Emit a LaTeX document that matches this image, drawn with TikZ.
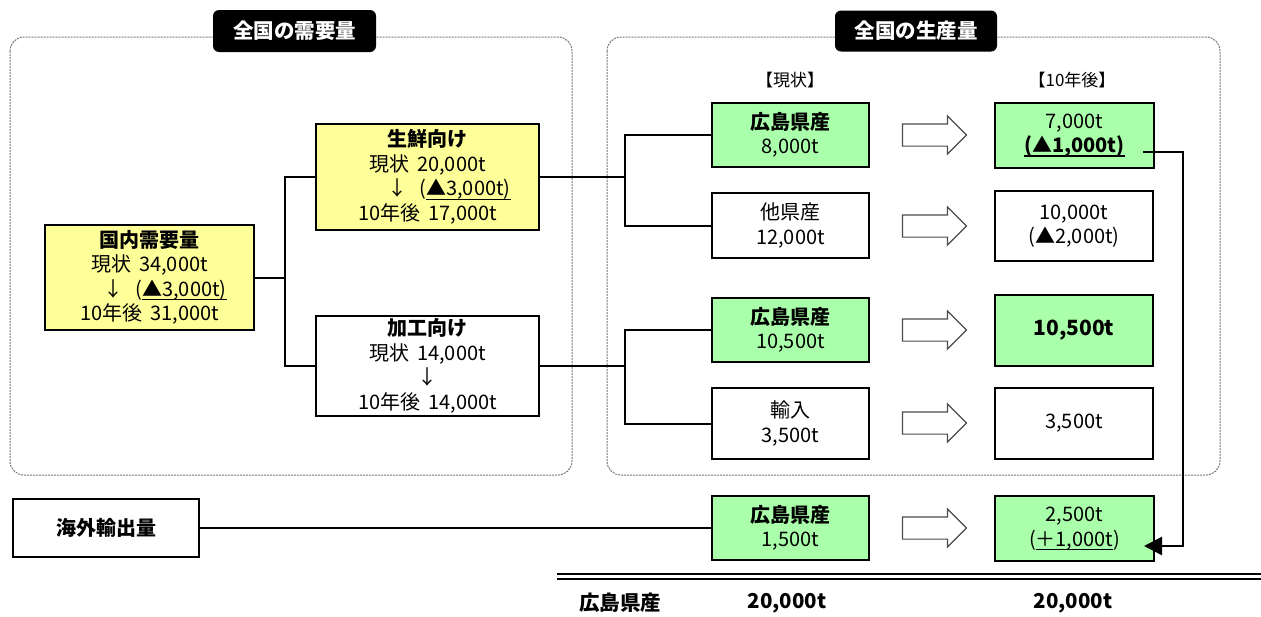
\documentclass[tikz,border=0pt]{standalone}
\usepackage{fontspec}
\setmainfont{Noto Sans CJK JP}
\usetikzlibrary{shapes.arrows,arrows.meta}
\definecolor{yel}{RGB}{255,255,153}
\definecolor{grn}{RGB}{170,255,170}
\definecolor{dashgray}{RGB}{120,120,120}
\newcommand\ulx[1]{\leavevmode\setbox0\hbox{#1}\rlap{\rule[-4pt]{\wd0}{1.3pt}}\box0}
\tikzset{
  bx/.style={draw, line width=1.5pt, align=center, inner sep=0pt},
  thk/.style={line width=2.6pt},
  yb/.style={bx, fill=yel},
  gb/.style={bx, fill=grn},
  wb/.style={bx, fill=white},
  conn/.style={draw, line width=2pt},
  harrow/.style={draw=black!70, line width=1.2pt, single arrow, single arrow head extend=8pt, minimum height=64pt, inner xsep=0pt, inner ysep=10.5pt, fill=white},
  hdr/.style={fill=black, rounded corners=6pt, text=white, font=\bfseries\fontsize{20.5}{24}\selectfont},
  grp/.style={draw=dashgray, dash pattern=on 2pt off 1pt, line width=1pt, rounded corners=14pt},
  colhead/.style={font=\fontsize{17}{20}\selectfont},
  tot/.style={font=\bfseries\fontsize{20.5}{24}\selectfont, inner sep=0pt}
}
\begin{document}
\begin{tikzpicture}[x=1pt,y=-1pt,font=\fontsize{20}{24.5}\selectfont]
\useasboundingbox (0,0) rectangle (1261,616);
% group frames
\draw[grp] (10,37) rectangle (572,475);
\draw[grp] (607,37) rectangle (1220,475);
\node[hdr, minimum width=163pt, minimum height=42pt] (t1) at (294.5,31) {全国の需要量};
\node[hdr, minimum width=162pt, minimum height=41pt] (t2) at (916,31) {全国の生産量};
\node[colhead] (c1) at (790,80) {【現状】};
\node[colhead] (c2) at (1072,80) {【10年後】};
% demand side
\node[yb, thk, minimum width=209pt, minimum height=105pt] (dom) at (149.5,277.5)
  {\textbf{国内需要量}\\現状\hspace{8pt}34,000t\\\hspace{31pt}↓\hspace{12pt}(\ulx{▲3,000t)}\\10年後\hspace{8pt}31,000t};
\node[yb, thk, minimum width=223pt, minimum height=106pt] (fresh) at (427.5,177)
  {\textbf{生鮮向け}\\現状\hspace{8pt}20,000t\\\hspace{43pt}↓\hspace{12pt}(\ulx{▲3,000t)}\\10年後\hspace{8pt}17,000t};
\node[wb, minimum width=223pt, minimum height=100pt] (proc) at (427.5,366)
  {\textbf{加工向け}\\現状\hspace{8pt}14,000t\\↓\\10年後\hspace{8pt}14,000t};
\node[wb, minimum width=186pt, minimum height=58pt] (exp) at (106,528) {\textbf{海外輸出量}};
% production: current
\node[gb, minimum width=157pt, minimum height=64pt] (h1) at (790.5,135) {\textbf{広島県産}\\8,000t};
\node[wb, minimum width=157pt, minimum height=65pt] (o1) at (790.5,225.5) {他県産\\12,000t};
\node[gb, minimum width=157pt, minimum height=64pt] (h2) at (790.5,330) {\textbf{広島県産}\\10,500t};
\node[wb, minimum width=157pt, minimum height=71pt] (imp) at (790.5,423.5) {輸入\\3,500t};
\node[gb, minimum width=157pt, minimum height=64pt] (h3) at (790.5,528) {\textbf{広島県産}\\1,500t};
% production: after 10 years
\node[gb, thk, minimum width=159pt, minimum height=65pt] (f1) at (1074.5,135.5) {7,000t\\\textbf{\ulx{(▲1,000t)}}};
\node[wb, minimum width=158pt, minimum height=70pt] (f2) at (1074,226) {10,000t\\(▲2,000t)};
\node[gb, minimum width=158pt, minimum height=71pt] (f3) at (1074,330.5) {\textbf{\fontsize{21}{24}\selectfont 10,500t}};
\node[wb, minimum width=158pt, minimum height=71pt] (f4) at (1074,423.5) {3,500t};
\node[gb, thk, minimum width=159pt, minimum height=65pt] (f5) at (1074.5,528.5) {2,500t\\(\ulx{＋1,000t})};
% hollow arrows
\foreach \y/\n in {135/1,226/2,330/3,423/4,528/5}
  \node[harrow] (ar\n) at (929,\y) {};
% connectors
\coordinate (j1) at (285,277.5);
\draw[conn] (dom.east) -- (j1);
\draw[conn] (fresh.west) -| (j1) |- (proc.west);
\coordinate (j2) at (625,177);
\draw[conn] (fresh.east) -- (j2);
\draw[conn] (h1.west) -| (j2) |- (o1.west);
\coordinate (j3) at (625,366);
\draw[conn] (proc.east) -- (j3);
\draw[conn] (h2.west) -| (j3) |- (imp.west);
\draw[conn] (exp.east) -- (h3.west);
% feedback arrow
\coordinate (fbs) at (1143,152);
\coordinate (fbe) at (1144,546);
\draw[line width=2.5pt, -{Triangle[length=18pt,width=18pt]}] (fbs) -- ++(40,0) |- (fbe);
% totals
\coordinate (dl1) at (557,574);
\coordinate (dr1) at (1261,574);
\coordinate (dl2) at (557,579);
\coordinate (dr2) at (1261,579);
\draw[line width=2pt] (dl1) -- (dr1);
\draw[line width=2pt] (dl2) -- (dr2);
\node[tot] (b1) at (620,603) {広島県産};
\node[tot] (b2) at (787,603) {20,000t};
\node[tot] (b3) at (1073,603) {20,000t};
\end{tikzpicture}
\end{document}
